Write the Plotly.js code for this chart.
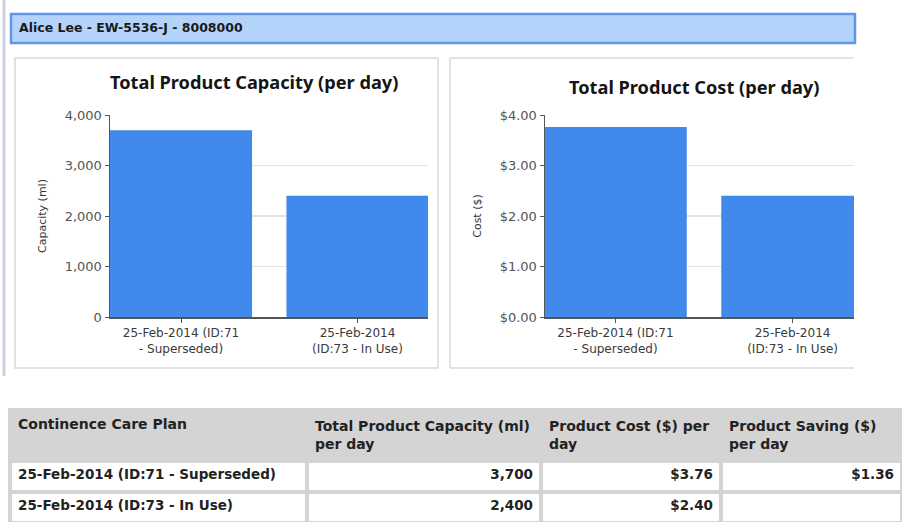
<!DOCTYPE html>
<html>
<head>
<meta charset="utf-8">
<script src="https://cdn.plot.ly/plotly-3.0.1.min.js"></script>
<style>
  html, body { margin: 0; padding: 0; background: #ffffff; }
  #chart { width: 902px; height: 523px; }
</style>
</head>
<body>
<div id="chart"></div>
<script>
// ---- data ----
const patientLabel = "Alice Lee - EW-5536-J - 8008000";
const categories = ["25-Feb-2014 (ID:71 - Superseded)", "25-Feb-2014 (ID:73 - In Use)"];
const tickLabels = ["25-Feb-2014 (ID:71<br>- Superseded)", "25-Feb-2014<br>(ID:73 - In Use)"];
const capacity = [3700, 2400];
const cost = [3.76, 2.40];
const saving = [1.36, null];
const capacityTicks = [0, 1000, 2000, 3000, 4000];
const capacityTickText = ["0", "1,000", "2,000", "3,000", "4,000"];
const costTicks = [0, 1, 2, 3, 4];
const costTickText = ["$0.00", "$1.00", "$2.00", "$3.00", "$4.00"];
const chartTitles = ["Total Product Capacity (per day)", "Total Product Cost (per day)"];
const axisTitles = ["Capacity (ml)", "Cost ($)"];
const tableHeaders = ["Continence Care Plan", "Total Product Capacity (ml)<br>per day",
                      "Product Cost ($) per<br>day", "Product Saving ($)<br>per day"];

// ---- helpers ----
const W = 902, H = 523;
const px = x => x / W;
const py = y => 1 - y / H;
const money = v => (v === null ? "" : "$" + v.toFixed(2));
const thousands = v => v.toLocaleString("en-US");

const barColor = "#4189ea";
const tickFont = { family: "DejaVu Sans", size: 13, color: "#555555" };
const catFont = { family: "DejaVu Sans", size: 12, color: "#3a3a3a" };
const axTitleFont = { family: "DejaVu Sans", size: 11, color: "#333333" };
const titleFont = { family: "Noto Sans", size: 18.2, color: "#151515", weight: "bold" };

const traces = [
  { type: "bar", x: categories, y: capacity, xaxis: "x", yaxis: "y",
    marker: { color: barColor, line: { width: 0 } }, hoverinfo: "x+y" },
  { type: "bar", x: categories, y: cost, xaxis: "x2", yaxis: "y2",
    marker: { color: barColor, line: { width: 0 } }, hoverinfo: "x+y" },
  { type: "table",
    domain: { x: [px(10), 1], y: [0, py(410)] },
    columnwidth: [297, 234, 180, 181],
    header: {
      values: tableHeaders,
      align: "left",
      height: 51,
      fill: { color: "#d4d4d4" },
      line: { color: "#d4d4d4", width: 4 },
      font: { family: "DejaVu Sans", size: 14, color: "#222222", weight: "bold" }
    },
    cells: {
      values: [categories, capacity.map(thousands), cost.map(money), saving.map(money)],
      align: ["left", "right", "right", "right"],
      height: 31,
      fill: { color: "#ffffff" },
      line: { color: "#d4d4d4", width: 4 },
      font: { family: "DejaVu Sans", size: 13.5, color: "#222222", weight: "bold" }
    }
  }
];

function xAxis(dom, range) {
  return {
    domain: dom, type: "category", range: range,
    tickmode: "array", tickvals: categories, ticktext: tickLabels,
    ticks: "outside", ticklen: 4, tickcolor: "#555555", tickwidth: 1,
    showline: true, linecolor: "#555555", linewidth: 1.5,
    showgrid: false, zeroline: false, tickfont: catFont, fixedrange: true
  };
}
function yAxis(dom, range, vals, text, title, standoff) {
  return {
    domain: dom, range: range,
    tickmode: "array", tickvals: vals, ticktext: text,
    ticks: "outside", ticklen: 4, tickcolor: "#555555", tickwidth: 1,
    showline: true, linecolor: "#555555", linewidth: 1.5,
    showgrid: true, gridcolor: "#e2e2e2", gridwidth: 1.2,
    zeroline: false, tickfont: tickFont, automargin: false,
    title: { text: title, font: axTitleFont, standoff: standoff }, fixedrange: true
  };
}

const yDom = [py(317), py(115)];

const layout = {
  width: W, height: H,
  margin: { l: 0, r: 0, t: 0, b: 0, pad: 0 },
  paper_bgcolor: "#ffffff", plot_bgcolor: "rgba(0,0,0,0)",
  showlegend: false, bargap: 0.195,
  xaxis: xAxis([px(110), px(428)], [-0.4023, 1.3994]),
  yaxis: yAxis(yDom, [0, 4000], capacityTicks, capacityTickText, axisTitles[0], 16),
  xaxis2: Object.assign(xAxis([px(545), px(854)], [-0.398, 1.347]), { anchor: "y2" }),
  yaxis2: Object.assign(yAxis(yDom, [0, 4], costTicks, costTickText, axisTitles[1], 16), { anchor: "x2" }),
  shapes: [
    // left page rule
    { type: "line", xref: "paper", yref: "paper", x0: px(4), x1: px(4), y0: py(0), y1: py(376),
      line: { color: "#c9d1dc", width: 3 } },
    // patient header bar
    { type: "rect", xref: "paper", yref: "paper", x0: px(11), x1: px(855), y0: py(43), y1: py(14),
      fillcolor: "#b4d3fb", line: { color: "#6096e6", width: 2.5 } },
    // panel 1
    { type: "rect", xref: "paper", yref: "paper", x0: px(15), x1: px(438), y0: py(368), y1: py(58),
      line: { color: "#dadada", width: 1.5 }, layer: "below" },
    // panel 2 (cut on the right)
    { type: "line", xref: "paper", yref: "paper", x0: px(450), x1: px(854), y0: py(58), y1: py(58),
      line: { color: "#dadada", width: 1.5 }, layer: "below" },
    { type: "line", xref: "paper", yref: "paper", x0: px(450), x1: px(450), y0: py(58), y1: py(368),
      line: { color: "#dadada", width: 1.5 }, layer: "below" },
    { type: "line", xref: "paper", yref: "paper", x0: px(450), x1: px(854), y0: py(368), y1: py(368),
      line: { color: "#dadada", width: 1.5 }, layer: "below" }
  ],
  annotations: [
    { text: patientLabel, xref: "paper", yref: "paper", x: px(17), y: py(28),
      xanchor: "left", yanchor: "middle", showarrow: false,
      font: { family: "DejaVu Sans", size: 12.5, color: "#1a1a1a", weight: "bold" } },
    { text: chartTitles[0], xref: "paper", yref: "paper", x: px(254), y: py(82),
      xanchor: "center", yanchor: "middle", showarrow: false, font: titleFont },
    { text: chartTitles[1], xref: "paper", yref: "paper", x: px(694), y: py(87),
      xanchor: "center", yanchor: "middle", showarrow: false, font: titleFont }
  ]
};

Plotly.newPlot("chart", traces, layout, { staticPlot: true, displayModeBar: false });
</script>
</body>
</html>
